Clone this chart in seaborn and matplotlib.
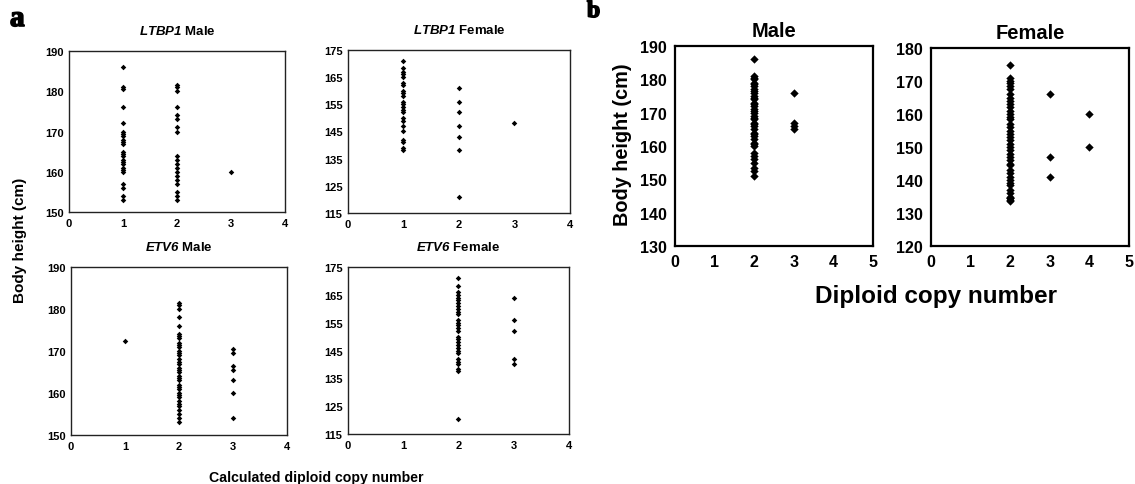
# copy_number_height.py
# Body height vs diploid copy number (LTBP1 / ETV6 by sex, and combined)

import pandas as pd
import matplotlib.pyplot as plt
import matplotlib.patheffects as pe
import seaborn as sns

# ---- panel a: LTBP1 male ----
ltbp1_male_cn = [1] * 24 + [2] * 19 + [3]
ltbp1_male_h = [186, 181, 180.5, 176, 172, 170, 169.5, 169, 168, 167.5, 167, 165, 164.5, 164,
                163, 162.5, 162, 161, 160.5, 160, 157, 156, 154, 153,
                181.5, 181, 180, 176, 174, 173, 171, 170, 164, 163, 162, 161, 160, 159, 158,
                157, 155, 154, 153,
                160]

# ---- panel a: LTBP1 female ----
ltbp1_female_cn = [1] * 23 + [2] * 7 + [3]
ltbp1_female_h = [171, 168.5, 167, 166, 165, 163, 162, 160, 159, 158, 156, 155, 154, 153, 152,
                  150, 149, 147, 145, 142, 141, 139, 138,
                  161, 156, 152, 147, 143, 138, 121,
                  148]

# ---- panel a: ETV6 male ----
etv6_male_cn = [1] + [2] * 36 + [3] * 7
etv6_male_h = [172.5,
               181.5, 181, 180, 178, 176, 174, 173.5, 173, 172, 171.5, 171, 170, 169.5, 169,
               168, 167.5, 167, 166, 165.5, 165, 164, 163.5, 163, 162, 161.5, 161, 160, 159.5,
               159, 158, 157.5, 157, 156, 155, 154, 153,
               170.5, 169.5, 166.5, 165.5, 163, 160, 154]

# ---- panel a: ETV6 female ----
etv6_female_cn = [2] * 29 + [3] * 5
etv6_female_h = [171, 168, 166, 165, 164, 163, 162, 161, 160, 159, 158, 156, 155, 154, 153, 152,
                 150, 149, 148, 147, 146, 145, 144, 142, 141, 140, 138.5, 137.5, 120.5,
                 164, 156, 152, 142, 140]

# ---- panel b: combined male / female ----
b_male_cn = [2] * 40 + [3] * 4
b_male_h = [186, 181, 180.5, 180, 179, 178.5, 178, 177, 176.5, 176, 175, 174.5, 174, 173,
            172.5, 172, 171, 170.5, 170, 169, 168.5, 168, 167, 166.5, 166, 165, 164, 163.5,
            163, 162, 161, 160.5, 160, 158, 157, 156, 155, 153.5, 152.5, 151,
            176, 167, 166, 165]

b_female_cn = [2] * 42 + [3] * 3 + [4] * 2
b_female_h = [175, 171, 170, 169.5, 168.5, 167.5, 166, 165, 164, 163, 162, 161, 160, 159,
              158.5, 157, 156, 155, 154, 153, 152, 151, 150, 149, 148, 147, 146, 145, 144.5,
              143, 142, 141, 140, 139, 138.5, 137, 136, 135, 134.5, 134, 133.5, 134.5,
              166, 147, 141,
              160, 150]

sns.set_style("white")
plt.rcParams["font.family"] = ["Liberation Sans", "DejaVu Sans"]
plt.rcParams["font.weight"] = "bold"
plt.rcParams["text.color"] = "black"
plt.rcParams["xtick.color"] = "black"
plt.rcParams["ytick.color"] = "black"
plt.rcParams["axes.labelcolor"] = "black"
plt.rcParams["mathtext.fontset"] = "custom"
plt.rcParams["mathtext.it"] = "Liberation Sans:bold:italic"
plt.rcParams["mathtext.rm"] = "Liberation Sans:bold:italic"

fig = plt.figure(figsize=(11.35, 4.85), dpi=100)


def draw(rect, cn, h, title, ylim, yticks, xmax, small):
    ax = fig.add_axes(rect)
    df = pd.DataFrame({"cn": cn, "h": h})
    sns.scatterplot(data=df, x="cn", y="h", ax=ax, marker="D", color="black",
                    s=8 if small else 18, linewidth=0)
    ax.set_xlim(0, xmax)
    ax.set_ylim(*ylim)
    ax.set_xticks(range(0, xmax + 1))
    ax.set_yticks(yticks)
    ax.set_xlabel("")
    ax.set_ylabel("")
    fs = 8 if small else 11.5
    ax.tick_params(length=0, labelsize=fs, pad=4 if small else 6, colors="black")
    for lab in ax.get_xticklabels() + ax.get_yticklabels():
        lab.set_fontweight("bold")
    for sp in ax.spines.values():
        sp.set_color("#222222" if small else "black")
        sp.set_linewidth(1.0 if small else 1.6)
    ax.set_title(title, fontsize=9.5 if small else 14.5, fontweight="bold",
                 pad=12 if small else 7)
    return ax


draw([0.0608, 0.5608, 0.1903, 0.332], ltbp1_male_cn, ltbp1_male_h,
     r"$LTBP1$ Male", (150, 190), [150, 160, 170, 180, 190], 4, True)
draw([0.3066, 0.5588, 0.1956, 0.3361], ltbp1_female_cn, ltbp1_female_h,
     r"$LTBP1$ Female", (115, 175), [115, 125, 135, 145, 155, 165, 175], 4, True)
draw([0.0626, 0.1010, 0.1903, 0.3464], etv6_male_cn, etv6_male_h,
     r"$ETV6$ Male", (150, 190), [150, 160, 170, 180, 190], 4, True)
draw([0.3066, 0.1031, 0.1947, 0.3443], etv6_female_cn, etv6_female_h,
     r"$ETV6$ Female", (115, 175), [115, 125, 135, 145, 155, 165, 175], 4, True)

draw([0.5947, 0.4907, 0.1744, 0.4124], b_male_cn, b_male_h,
     "Male", (130, 190), [130, 140, 150, 160, 170, 180, 190], 5, False)
draw([0.8203, 0.4907, 0.1744, 0.4082], b_female_cn, b_female_h,
     "Female", (120, 180), [120, 130, 140, 150, 160, 170, 180], 5, False)

# axis labels and panel letters
fig.text(20 / 1135, 1 - 240 / 485, "Body height (cm)", rotation=90, ha="center",
         va="center", fontsize=11, fontweight="bold")
fig.text(316 / 1135, 1 - 478 / 485, "Calculated diploid copy number", ha="center",
         va="center", fontsize=10.2, fontweight="bold")
fig.text(623 / 1135, 1 - 145 / 485, "Body height (cm)", rotation=90, ha="center",
         va="center", fontsize=14.3, fontweight="bold")
fig.text(936 / 1135, 1 - 296 / 485, "Diploid copy number", ha="center",
         va="center", fontsize=17.5, fontweight="bold")
heavy = [pe.withStroke(linewidth=1.2, foreground="black")]
fig.text(10 / 1135, 1 - 27 / 485, "a", ha="left", va="baseline", fontsize=21,
         fontweight="bold", family="Liberation Serif", path_effects=heavy)
fig.text(587 / 1135, 1 - 18 / 485, "b", ha="left", va="baseline", fontsize=17,
         fontweight="bold", family="Liberation Serif", path_effects=heavy)

fig.savefig("out.png", dpi=100)
